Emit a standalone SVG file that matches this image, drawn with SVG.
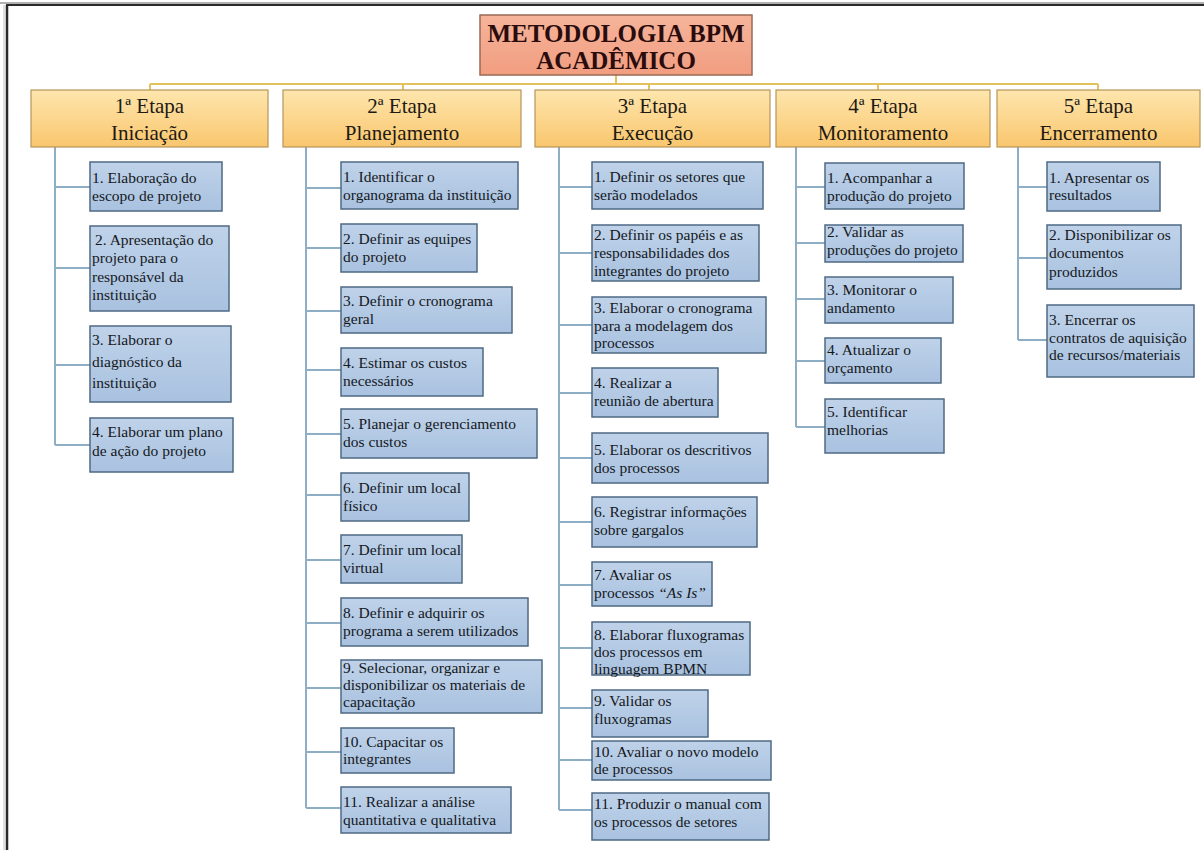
<svg xmlns="http://www.w3.org/2000/svg" width="1204" height="850" viewBox="0 0 1204 850">
<defs>
<linearGradient id="gTitle" x1="0" y1="0" x2="0" y2="1"><stop offset="0" stop-color="#f6b49b"/><stop offset="1" stop-color="#f19d80"/></linearGradient>
<linearGradient id="gStage" x1="0" y1="0" x2="0" y2="1"><stop offset="0" stop-color="#fde6ad"/><stop offset="0.5" stop-color="#fcd68e"/><stop offset="1" stop-color="#f9c66d"/></linearGradient>
<linearGradient id="gChild" x1="0" y1="0" x2="0" y2="1"><stop offset="0" stop-color="#bfd2e9"/><stop offset="1" stop-color="#a9c2e0"/></linearGradient>
</defs>
<style>
.title{fill:url(#gTitle);stroke:#9b6a55;stroke-width:1.5}
.tt{font-family:"Liberation Serif","Times New Roman",serif;font-weight:bold;font-size:25px;fill:#2b0c0c;text-anchor:middle}
.stage{fill:url(#gStage);stroke:#b8955a;stroke-width:1.2}
.st{font-family:"Liberation Serif","Times New Roman",serif;font-size:21px;fill:#1e1a14;text-anchor:middle}
.child{fill:url(#gChild);stroke:#4f6985;stroke-width:1.5}
.ct{font-family:"Liberation Serif","Times New Roman",serif;font-size:15.5px;fill:#15181c}
.gold{stroke:#e3c25e;stroke-width:2;fill:none}
.blue{stroke:#8eaec6;stroke-width:2;fill:none}
</style>
<rect width="1204" height="850" fill="#ffffff"/>
<line x1="0" y1="3" x2="1204" y2="3" stroke="#b0b0b0" stroke-width="2"/>
<line x1="6" y1="5" x2="1204" y2="5" stroke="#2a2a2a" stroke-width="2"/>
<line x1="7" y1="5" x2="7" y2="850" stroke="#2a2a2a" stroke-width="2.5"/>
<line x1="4" y1="5" x2="4" y2="850" stroke="#c0c0c0" stroke-width="1"/>

<g id="connectors">
<path class="gold" d="M616 75 V84 M150 84 H1098 M150 84 V90 M403 84 V90 M649 84 V90 M878 84 V90 M1098 84 V90"/>
<path class="blue" d="M55 147 V445 M55 187 H90 M55 268 H90 M55 365 H90 M55 445 H90"/>
<path class="blue" d="M306 147 V808 M306 188 H341 M306 248 H341 M306 311 H341 M306 370 H341 M306 434 H341 M306 495 H341 M306 560 H341 M306 623 H341 M306 688 H341 M306 752 H341 M306 808 H341"/>
<path class="blue" d="M559 147 V810 M559 187 H592 M559 253 H592 M559 325 H592 M559 393 H592 M559 458 H592 M559 522 H592 M559 585 H592 M559 648 H592 M559 708 H592 M559 760 H592 M559 810 H592"/>
<path class="blue" d="M796 147 V427 M796 187 H825 M796 243 H825 M796 299 H825 M796 361 H825 M796 427 H825"/>
<path class="blue" d="M1018 147 V340 M1018 187 H1047 M1018 258 H1047 M1018 340 H1047"/>
</g>

<g id="title">
<rect class="title" x="480" y="15" width="272" height="60"/>
<text class="tt" x="616" y="42">METODOLOGIA BPM</text>
<text class="tt" x="616" y="69">ACADÊMICO</text>
</g>

<g id="stage1"><rect class="stage" x="31" y="90" width="237" height="57"/><text class="st" x="149.5" y="113">1ª Etapa</text><text class="st" x="149.5" y="140">Iniciação</text></g>
<g id="stage2"><rect class="stage" x="283" y="90" width="238" height="57"/><text class="st" x="402" y="113">2ª Etapa</text><text class="st" x="402" y="140">Planejamento</text></g>
<g id="stage3"><rect class="stage" x="535" y="90" width="235" height="57"/><text class="st" x="652.5" y="113">3ª Etapa</text><text class="st" x="652.5" y="140">Execução</text></g>
<g id="stage4"><rect class="stage" x="776" y="90" width="214" height="57"/><text class="st" x="883" y="113">4ª Etapa</text><text class="st" x="883" y="140">Monitoramento</text></g>
<g id="stage5"><rect class="stage" x="997" y="90" width="203" height="57"/><text class="st" x="1098.5" y="113">5ª Etapa</text><text class="st" x="1098.5" y="140">Encerramento</text></g>

<!-- Stage 1 -->
<g id="s1-1"><rect class="child" x="90" y="162" width="132" height="49"/><text class="ct" x="92"><tspan x="92" y="183">1. Elaboração do</tspan><tspan x="92" y="201">escopo de projeto</tspan></text></g>
<g id="s1-2"><rect class="child" x="90" y="226" width="139" height="85"/><text class="ct"><tspan x="95" y="245">2. Apresentação do</tspan><tspan x="92" y="263">projeto para o</tspan><tspan x="92" y="282">responsável da</tspan><tspan x="92" y="300">instituição</tspan></text></g>
<g id="s1-3"><rect class="child" x="90" y="326" width="141" height="76"/><text class="ct"><tspan x="92" y="345">3. Elaborar o</tspan><tspan x="92" y="367">diagnóstico da</tspan><tspan x="92" y="388">instituição</tspan></text></g>
<g id="s1-4"><rect class="child" x="90" y="418" width="143" height="54"/><text class="ct"><tspan x="92" y="437">4. Elaborar um plano</tspan><tspan x="92" y="456">de ação do projeto</tspan></text></g>

<!-- Stage 2 -->
<g id="s2-1"><rect class="child" x="341" y="162" width="177" height="47"/><text class="ct"><tspan x="343" y="182">1. Identificar o</tspan><tspan x="343" y="200">organograma da instituição</tspan></text></g>
<g id="s2-2"><rect class="child" x="341" y="224" width="136" height="48"/><text class="ct"><tspan x="343" y="244">2. Definir as equipes</tspan><tspan x="343" y="262">do projeto</tspan></text></g>
<g id="s2-3"><rect class="child" x="341" y="287" width="171" height="46"/><text class="ct"><tspan x="343" y="306">3. Definir o cronograma</tspan><tspan x="343" y="324">geral</tspan></text></g>
<g id="s2-4"><rect class="child" x="341" y="348" width="142" height="48"/><text class="ct"><tspan x="343" y="368">4. Estimar os custos</tspan><tspan x="343" y="386">necessários</tspan></text></g>
<g id="s2-5"><rect class="child" x="341" y="409" width="196" height="49"/><text class="ct"><tspan x="343" y="429">5. Planejar o gerenciamento</tspan><tspan x="343" y="447">dos custos</tspan></text></g>
<g id="s2-6"><rect class="child" x="341" y="473" width="128" height="48"/><text class="ct"><tspan x="343" y="493">6. Definir um local</tspan><tspan x="343" y="511">físico</tspan></text></g>
<g id="s2-7"><rect class="child" x="341" y="535" width="121" height="48"/><text class="ct"><tspan x="343" y="555">7. Definir um local</tspan><tspan x="343" y="573">virtual</tspan></text></g>
<g id="s2-8"><rect class="child" x="341" y="598" width="187" height="48"/><text class="ct"><tspan x="343" y="618">8. Definir e adquirir os</tspan><tspan x="343" y="636">programa a serem utilizados</tspan></text></g>
<g id="s2-9"><rect class="child" x="341" y="660" width="201" height="53"/><text class="ct"><tspan x="343" y="673">9. Selecionar, organizar e</tspan><tspan x="343" y="690">disponibilizar os materiais de</tspan><tspan x="343" y="707">capacitação</tspan></text></g>
<g id="s2-10"><rect class="child" x="341" y="728" width="113" height="45"/><text class="ct"><tspan x="343" y="747">10. Capacitar os</tspan><tspan x="343" y="764">integrantes</tspan></text></g>
<g id="s2-11"><rect class="child" x="341" y="787" width="170" height="46"/><text class="ct"><tspan x="343" y="807">11. Realizar a análise</tspan><tspan x="343" y="825">quantitativa e qualitativa</tspan></text></g>

<!-- Stage 3 -->
<g id="s3-1"><rect class="child" x="592" y="162" width="171" height="47"/><text class="ct"><tspan x="594" y="182">1. Definir os setores que</tspan><tspan x="594" y="200">serão modelados</tspan></text></g>
<g id="s3-2"><rect class="child" x="592" y="225" width="167" height="56"/><text class="ct"><tspan x="594" y="240">2. Definir os papéis e as</tspan><tspan x="594" y="258">responsabilidades dos</tspan><tspan x="594" y="276">integrantes do projeto</tspan></text></g>
<g id="s3-3"><rect class="child" x="592" y="297" width="174" height="56"/><text class="ct"><tspan x="594" y="313">3. Elaborar o cronograma</tspan><tspan x="594" y="331">para a modelagem dos</tspan><tspan x="594" y="348">processos</tspan></text></g>
<g id="s3-4"><rect class="child" x="592" y="368" width="126" height="49"/><text class="ct"><tspan x="594" y="388">4. Realizar a</tspan><tspan x="594" y="406">reunião de abertura</tspan></text></g>
<g id="s3-5"><rect class="child" x="592" y="433" width="176" height="50"/><text class="ct"><tspan x="594" y="455">5. Elaborar os descritivos</tspan><tspan x="594" y="473">dos processos</tspan></text></g>
<g id="s3-6"><rect class="child" x="592" y="497" width="165" height="50"/><text class="ct"><tspan x="594" y="517">6. Registrar informações</tspan><tspan x="594" y="535">sobre gargalos</tspan></text></g>
<g id="s3-7"><rect class="child" x="592" y="562" width="120" height="44"/><text class="ct"><tspan x="594" y="580">7. Avaliar os</tspan><tspan x="594" y="598">processos <tspan font-style="italic">“As Is”</tspan></tspan></text></g>
<g id="s3-8"><rect class="child" x="592" y="622" width="158" height="53"/><text class="ct"><tspan x="594" y="640">8. Elaborar fluxogramas</tspan><tspan x="594" y="657">dos processos em</tspan><tspan x="594" y="674">linguagem BPMN</tspan></text></g>
<g id="s3-9"><rect class="child" x="592" y="690" width="116" height="47"/><text class="ct"><tspan x="594" y="706">9. Validar os</tspan><tspan x="594" y="724">fluxogramas</tspan></text></g>
<g id="s3-10"><rect class="child" x="592" y="741" width="179" height="39"/><text class="ct"><tspan x="594" y="757">10. Avaliar o novo modelo</tspan><tspan x="594" y="774">de processos</tspan></text></g>
<g id="s3-11"><rect class="child" x="592" y="793" width="177" height="47"/><text class="ct"><tspan x="594" y="809">11. Produzir o manual com</tspan><tspan x="594" y="827">os processos de setores</tspan></text></g>

<!-- Stage 4 -->
<g id="s4-1"><rect class="child" x="825" y="163" width="139" height="46"/><text class="ct"><tspan x="827" y="183">1. Acompanhar a</tspan><tspan x="827" y="201">produção do projeto</tspan></text></g>
<g id="s4-2"><rect class="child" x="825" y="225" width="138" height="37"/><text class="ct"><tspan x="827" y="237">2. Validar as</tspan><tspan x="827" y="255">produções do projeto</tspan></text></g>
<g id="s4-3"><rect class="child" x="825" y="277" width="128" height="46"/><text class="ct"><tspan x="827" y="295">3. Monitorar o</tspan><tspan x="827" y="313">andamento</tspan></text></g>
<g id="s4-4"><rect class="child" x="825" y="338" width="116" height="45"/><text class="ct"><tspan x="827" y="355">4. Atualizar o</tspan><tspan x="827" y="373">orçamento</tspan></text></g>
<g id="s4-5"><rect class="child" x="825" y="399" width="119" height="54"/><text class="ct"><tspan x="827" y="417">5. Identificar</tspan><tspan x="827" y="435">melhorias</tspan></text></g>

<!-- Stage 5 -->
<g id="s5-1"><rect class="child" x="1047" y="162" width="113" height="49"/><text class="ct"><tspan x="1049" y="183">1. Apresentar os</tspan><tspan x="1049" y="200">resultados</tspan></text></g>
<g id="s5-2"><rect class="child" x="1047" y="225" width="134" height="64"/><text class="ct"><tspan x="1049" y="240">2. Disponibilizar os</tspan><tspan x="1049" y="258">documentos</tspan><tspan x="1049" y="277">produzidos</tspan></text></g>
<g id="s5-3"><rect class="child" x="1047" y="305" width="147" height="72"/><text class="ct"><tspan x="1049" y="325">3. Encerrar os</tspan><tspan x="1049" y="343">contratos de aquisição</tspan><tspan x="1049" y="360">de recursos/materiais</tspan></text></g>
</svg>
